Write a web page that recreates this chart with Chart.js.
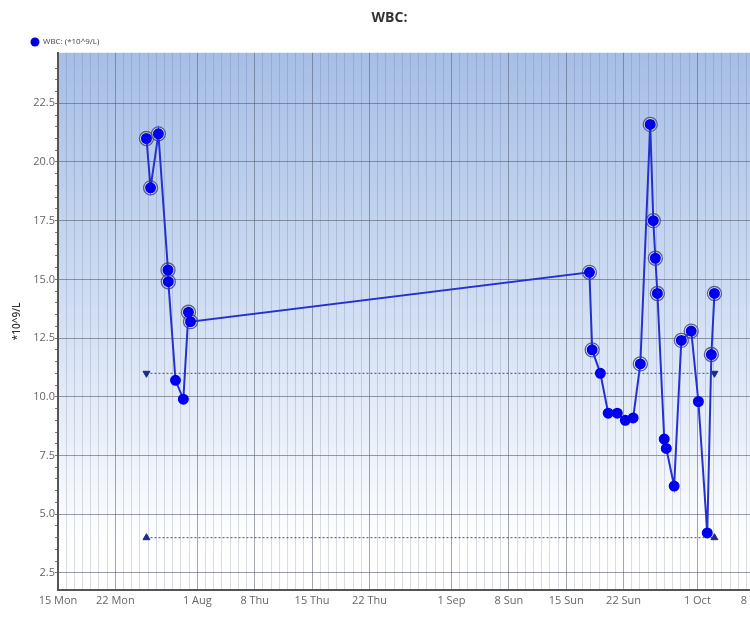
<!DOCTYPE html>
<html>
<head>
<meta charset="utf-8">
<script src="https://cdn.jsdelivr.net/npm/chart.js@4.4.1/dist/chart.umd.min.js"></script>
<style>
  body { margin: 0; overflow: hidden; background: #fff; }
  #wrap { width: 775px; height: 619px; position: relative; }
</style>
</head>
<body>
<div id="wrap"><canvas id="wbc"></canvas></div>
<script>
// measurement times (UTC) and WBC values
const dates = [
  '2024-07-25T19:00Z', '2024-07-26T07:00Z', '2024-07-27T06:00Z', '2024-07-28T10:00Z',
  '2024-07-28T11:00Z', '2024-07-29T08:00Z', '2024-07-30T07:00Z', '2024-07-30T22:00Z',
  '2024-07-31T04:00Z', '2024-09-17T20:00Z', '2024-09-18T04:00Z', '2024-09-19T04:00Z',
  '2024-09-20T03:00Z', '2024-09-21T05:30Z', '2024-09-22T05:00Z', '2024-09-23T04:00Z',
  '2024-09-24T01:00Z', '2024-09-25T06:00Z', '2024-09-25T15:00Z', '2024-09-25T21:00Z',
  '2024-09-26T03:00Z', '2024-09-26T23:00Z', '2024-09-27T05:00Z', '2024-09-28T04:00Z',
  '2024-09-29T01:00Z', '2024-09-30T06:00Z', '2024-10-01T03:00Z', '2024-10-02T05:00Z',
  '2024-10-02T17:00Z', '2024-10-03T02:00Z'
];
const wbc = [
  21.0, 18.9, 21.2, 15.4, 14.9, 10.7, 9.9, 13.6, 13.2,
  15.3, 12.0, 11.0, 9.3, 9.3, 9.0, 9.1, 11.4, 21.6, 17.5, 15.9,
  14.4, 8.2, 7.8, 6.2, 12.4, 12.8, 9.8, 4.2, 11.8, 14.4
];
const upperLimit = 11.0;
const lowerLimit = 4.0;

const tickDates = [
  '2024-07-15', '2024-07-22', '2024-08-01', '2024-08-08', '2024-08-15', '2024-08-22',
  '2024-09-01', '2024-09-08', '2024-09-15', '2024-09-22', '2024-10-01', '2024-10-08'
];
const tickLabels = [
  '15 Mon', '22 Mon', '1 Aug', '8 Thu', '15 Thu', '22 Thu',
  '1 Sep', '8 Sun', '15 Sun', '22 Sun', '1 Oct', '8 Tue'
];
const xMin = Date.parse('2024-07-15T00:00Z');
const xMax = Date.parse('2024-10-09T11:00Z');
const yMin = 1.78;
const yMax = 24.65;

const DAY = 86400000;
const points = dates.map((d, i) => ({ x: Date.parse(d), y: wbc[i] }));
const rings = points.filter(p => p.y > upperLimit);
const first = points[0].x;
const last = points[points.length - 1].x;
const majorX = tickDates.map(d => Date.parse(d + 'T00:00Z'));

function isMajorY(v) {
  return Math.abs(v / 2.5 - Math.round(v / 2.5)) < 1e-6;
}

const bgPlugin = {
  id: 'bg',
  beforeDraw(chart) {
    const a = chart.chartArea;
    const ctx = chart.ctx;
    const g = ctx.createLinearGradient(0, a.top, 0, a.bottom);
    g.addColorStop(0, '#a6bee6');
    g.addColorStop(0.5, '#d3e0f4');
    g.addColorStop(0.92, '#ffffff');
    ctx.save();
    ctx.fillStyle = g;
    ctx.fillRect(a.left, a.top, a.right - a.left, a.bottom - a.top);
    ctx.restore();
  }
};

const legendPlugin = {
  id: 'miniLegend',
  afterDraw(chart) {
    const ctx = chart.ctx;
    ctx.save();
    ctx.fillStyle = '#0000dd';
    ctx.beginPath();
    ctx.arc(35, 42, 4.5, 0, Math.PI * 2);
    ctx.fill();
    ctx.fillStyle = '#444';
    ctx.font = '8px "Open Sans"';
    ctx.textBaseline = 'middle';
    ctx.fillText(chart.data.datasets[0].label, 43, 42);
    ctx.restore();
  }
};

new Chart(document.getElementById('wbc'), {
  type: 'line',
  data: {
    datasets: [
      {
        label: 'WBC: (*10^9/L)',
        data: points,
        borderColor: '#2430d2',
        borderWidth: 2,
        backgroundColor: '#0000ee',
        pointBackgroundColor: '#0000ee',
        pointBorderColor: '#0000ee',
        pointRadius: 4.5,
        tension: 0
      },
      {
        label: 'rings',
        data: rings,
        showLine: false,
        pointRadius: 7,
        pointBorderWidth: 1.3,
        pointBorderColor: 'rgba(70,72,125,0.85)',
        pointBackgroundColor: 'rgba(255,255,255,0.35)'
      },
      {
        label: 'upper',
        data: [{ x: first, y: upperLimit }, { x: last, y: upperLimit }],
        borderColor: '#3344cc',
        borderWidth: 1,
        borderDash: [2, 2],
        pointStyle: 'triangle',
        rotation: 180,
        pointRadius: 4,
        pointBackgroundColor: '#1c2a8c',
        pointBorderColor: '#1c2a8c'
      },
      {
        label: 'lower',
        data: [{ x: first, y: lowerLimit }, { x: last, y: lowerLimit }],
        borderColor: '#3344cc',
        borderWidth: 1,
        borderDash: [2, 2],
        pointStyle: 'triangle',
        pointRadius: 4,
        pointBackgroundColor: '#1c2a8c',
        pointBorderColor: '#1c2a8c'
      }
    ]
  },
  options: {
    responsive: true,
    maintainAspectRatio: false,
    animation: false,
    layout: { padding: { left: 7, right: 3, top: 0, bottom: 8 } },
    plugins: {
      legend: { display: false },
      tooltip: { enabled: false },
      title: {
        display: true,
        text: 'WBC:',
        color: '#333',
        font: { family: '"Open Sans"', size: 14, weight: 'bold' },
        padding: { top: 10, bottom: 26 }
      }
    },
    scales: {
      x: {
        type: 'linear',
        min: xMin,
        max: xMax,
        afterBuildTicks(scale) {
          const t = [];
          for (let v = xMin; v < xMax; v += DAY) t.push({ value: v });
          scale.ticks = t;
        },
        ticks: {
          autoSkip: false,
          maxRotation: 0,
          padding: 4,
          color: '#666',
          font: { family: '"Open Sans"', size: 11 },
          callback(v) {
            const i = majorX.indexOf(v);
            return i >= 0 ? tickLabels[i] : '';
          }
        },
        grid: {
          drawTicks: false,
          color(ctx) {
            if (!ctx.tick) return 'transparent';
            return majorX.indexOf(ctx.tick.value) >= 0 ? 'rgba(85,92,110,0.55)' : 'rgba(90,100,130,0.22)';
          }
        },
        border: { color: '#555', width: 2 }
      },
      y: {
        min: yMin,
        max: yMax,
        afterFit(scale) { scale.width = 51; },
        title: {
          display: true,
          text: '*10^9/L',
          color: '#333',
          font: { family: '"Open Sans"', size: 10, weight: '600' },
          padding: { top: 4, bottom: 4 }
        },
        ticks: {
          stepSize: 0.5,
          autoSkip: false,
          padding: 0,
          color: '#666',
          font: { family: '"Open Sans"', size: 11 },
          callback(v) {
            return isMajorY(v) ? v.toFixed(1) : '';
          }
        },
        grid: {
          tickLength: 3,
          color(ctx) {
            if (!ctx.tick) return 'transparent';
            const v = ctx.tick.value;
            if (isMajorY(v)) return 'rgba(85,92,110,0.6)';
            if (Math.abs(v - 2.0) < 1e-6) return 'rgba(85,92,110,0.4)';
            return 'transparent';
          },
          tickColor(ctx) {
            if (!ctx.tick) return 'transparent';
            const v = ctx.tick.value;
            return (v === yMin || v === yMax) ? 'transparent' : '#777';
          }
        },
        border: { color: '#555', width: 2 }
      }
    }
  },
  plugins: [bgPlugin, legendPlugin]
});
</script>
</body>
</html>
